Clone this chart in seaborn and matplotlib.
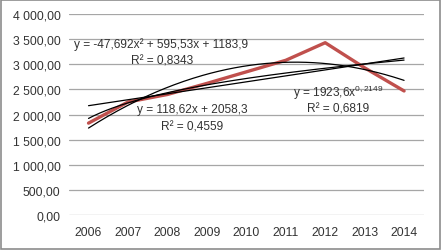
import numpy as np
import pandas as pd
import matplotlib
matplotlib.use("Agg")
import matplotlib.pyplot as plt
import seaborn as sns
from matplotlib.patches import Rectangle

years = ["2006", "2007", "2008", "2009", "2010", "2011", "2012", "2013", "2014"]
values = [1830, 2250, 2400, 2620, 2850, 3080, 3430, 2930, 2470]
yticks = [0, 500, 1000, 1500, 2000, 2500, 3000, 3500, 4000]
ytick_labels = ["0,00", "500,00", "1 000,00", "1 500,00", "2 000,00", "2 500,00",
                "3 000,00", "3 500,00", "4 000,00"]
poly_coef = [-47.692, 595.53, 1183.9]
lin_coef = [118.62, 2058.3]
pow_coef = [1923.6, 0.2149]

sns.set_theme(style="white")
plt.rcParams["font.family"] = ["Liberation Sans", "DejaVu Sans"]
plt.rcParams["mathtext.fontset"] = "custom"
plt.rcParams["mathtext.rm"] = "Liberation Sans"
plt.rcParams["mathtext.it"] = "Liberation Sans"

txt = "#333333"
fig = plt.figure(figsize=(4.41, 2.51), dpi=100)
ax = fig.add_axes([0.156, 0.139, 0.805, 0.801])

pos = np.arange(len(years))
df = pd.DataFrame({"x": pos, "y": values})
xs = np.linspace(0, len(years) - 1, 200)
t = xs + 1
trend = pd.DataFrame({
    "x": xs,
    "poly": poly_coef[0] * t**2 + poly_coef[1] * t + poly_coef[2],
    "lin": lin_coef[0] * t + lin_coef[1],
    "pow": pow_coef[0] * t**pow_coef[1],
})

sns.lineplot(data=df, x="x", y="y", ax=ax, color="#C0504D", linewidth=2.4, zorder=3)
for c in ["poly", "lin", "pow"]:
    sns.lineplot(data=trend, x="x", y=c, ax=ax, color="black", linewidth=0.9, zorder=4)

ax.set_xlim(-0.5, len(years) - 0.5)
ax.set_ylim(0, 4000)
ax.set_yticks(yticks)
ax.set_yticklabels(ytick_labels)
ax.set_xticks(pos)
ax.set_xticklabels(years)
ax.yaxis.grid(True, color="#A6A6A6", linewidth=0.9)
ax.xaxis.grid(False)
for s in ax.spines.values():
    s.set_visible(False)
ax.tick_params(axis="both", length=0, labelsize=8.8, colors=txt, pad=6)
ax.tick_params(axis="x", pad=8)
ax.set_xlabel("")
ax.set_ylabel("")

def px(xp, yp):
    return (xp / 441, 1 - yp / 251)

fs = 8.6
fig.text(*px(161, 45), "y = -47,692x² + 595,53x + 1183,9", ha="center", va="center", fontsize=fs, color=txt)
fig.text(*px(162, 62), "R² = 0,8343", ha="center", va="center", fontsize=fs, color=txt)
fig.text(*px(192, 110), "y = 118,62x + 2058,3", ha="center", va="center", fontsize=fs, color=txt)
fig.text(*px(192, 127), "R² = 0,4559", ha="center", va="center", fontsize=fs, color=txt)
fig.text(*px(338, 93), r"y = 1923,6x$^{0,2149}$", ha="center", va="center", fontsize=fs, color=txt)
fig.text(*px(338, 109), "R² = 0,6819", ha="center", va="center", fontsize=fs, color=txt)

fig.patches.append(Rectangle((0.003, 0.004), 0.994, 0.992, transform=fig.transFigure,
                             fill=False, edgecolor="#8C8C8C", linewidth=1.2))

fig.savefig("out.png", dpi=100)
